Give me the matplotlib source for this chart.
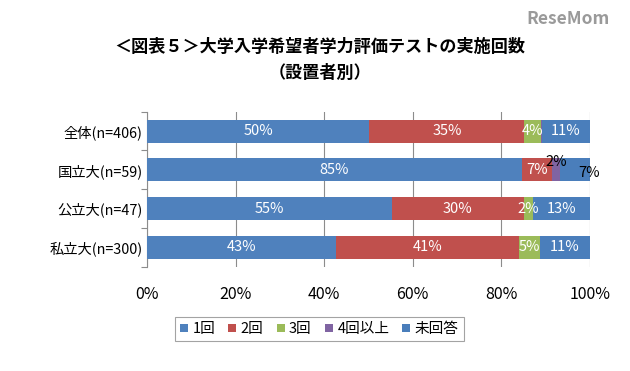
import matplotlib
matplotlib.use("Agg")
import matplotlib.pyplot as plt
from matplotlib.patches import Patch
import numpy as np

plt.rcParams["font.family"] = ["Noto Sans CJK JP", "DejaVu Sans"]

categories = ["全体(n=406)", "国立大(n=59)", "公立大(n=47)", "私立大(n=300)"]
series = ["1回", "2回", "3回", "4回以上", "未回答"]
once = [50.2, 84.7, 55.3, 42.7]
twice = [35.0, 6.8, 29.8, 41.3]
three = [3.7, 0.0, 2.1, 4.7]
four_plus = [0.25, 1.7, 0.0, 0.0]
no_answer = [10.8, 6.8, 12.8, 11.3]
colors = ["#4F81BD", "#C0504D", "#9BBB59", "#8064A2", "#4A7EBB"]

values = np.array([once, twice, three, four_plus, no_answer])

fig = plt.figure(figsize=(6.3, 3.71), dpi=100)
ax = fig.add_axes([0.2333, 0.2811, 0.7032, 0.4178])

y = np.arange(len(categories))
left = np.zeros(len(categories))
for k, (name, col) in enumerate(zip(series, colors)):
    vals = values[k]
    ax.barh(y, vals, left=left, height=0.59, color=col, zorder=3)
    for i, v in enumerate(vals):
        if v < 1.0:
            continue
        cx = left[i] + v / 2
        txt = f"{v:.0f}%"
        if i == 1 and k == 3:
            ax.annotate(txt, (cx, y[i]), xytext=(0, 6), textcoords="offset points",
                        ha="center", va="center", fontsize=10.5, color="black", zorder=5)
        elif i == 1 and k == 4:
            ax.annotate(txt, (cx, y[i]), xytext=(10, -2), textcoords="offset points",
                        ha="center", va="center", fontsize=10.5, color="black", zorder=5)
        else:
            ax.text(cx, y[i], txt, ha="center", va="center", fontsize=10.5,
                    color="white", zorder=5)
    left = left + vals

ax.set_ylim(len(categories) - 0.5, -0.5)
ax.set_xlim(0, 100)
ax.set_xticks(np.arange(0, 101, 20))
ax.set_xticklabels([f"{t}%" for t in range(0, 101, 20)], fontsize=11.5)
ax.tick_params(axis="x", length=0, pad=14)
ax.xaxis.grid(True, color="#8c8c8c", linewidth=0.8, zorder=0)

ax.set_yticks(y)
ax.set_yticklabels(categories, fontsize=10.3)
ax.tick_params(axis="y", which="major", length=0, pad=3)
ax.set_yticks(np.arange(-0.5, len(categories) + 0.5, 1), minor=True)
ax.tick_params(axis="y", which="minor", length=4, width=0.8, color="#8c8c8c", direction="out")

for s in ["top", "right", "bottom"]:
    ax.spines[s].set_visible(False)
ax.spines["left"].set_color("#8c8c8c")
ax.spines["left"].set_linewidth(0.8)

fig.text(0.508, 0.873, "＜図表５＞大学入学希望者学力評価テストの実施回数",
         ha="center", va="center", fontsize=12.3, fontweight="bold")
fig.text(0.508, 0.803, "（設置者別）", ha="center", va="center",
         fontsize=12.3, fontweight="bold")

fig.text(0.968, 0.948, "ReseMom", ha="right", va="center", fontsize=12.5,
         fontweight="bold", color="#9a9a9a")

handles = [Patch(facecolor=c, edgecolor="none") for c in colors]
leg = fig.legend(handles, series, loc="center", bbox_to_anchor=(0.507, 0.113),
                 ncol=5, fontsize=10.5, frameon=True, fancybox=False,
                 handlelength=0.55, handleheight=0.55, handletextpad=0.3,
                 columnspacing=0.9, borderpad=0.35)
leg.get_frame().set_edgecolor("#8c8c8c")
leg.get_frame().set_linewidth(0.8)

fig.savefig("out.png", dpi=100)
